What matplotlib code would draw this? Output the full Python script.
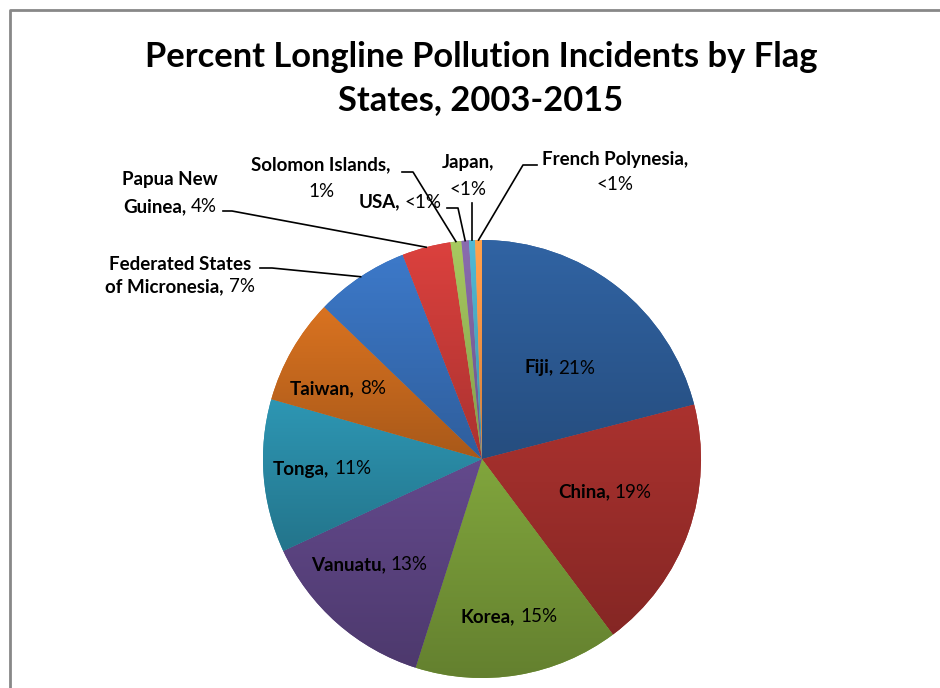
import numpy as np
import matplotlib
matplotlib.use('Agg')
import matplotlib.pyplot as plt
from matplotlib.colors import to_rgb

plt.rcParams['font.family'] = ['Lato', 'DejaVu Sans']

# data (percent of incidents)
states = ['Fiji', 'China', 'Korea', 'Vanuatu', 'Tonga', 'Taiwan',
          'Federated States of Micronesia', 'Papua New Guinea',
          'Solomon Islands', 'USA', 'Japan', 'French Polynesia']
values = [21.0, 18.8, 15.1, 13.2, 11.3, 7.8, 6.9, 3.6, 0.8, 0.55, 0.45, 0.5]
pct_labels = ['21%', '19%', '15%', '13%', '11%', '8%', '7%', '4%', '1%', '<1%', '<1%', '<1%']
colors = ['#2D5C97', '#9E2E2B', '#779938', '#5C4482', '#2A8BA6', '#C96A1E',
          '#3870BA', '#CB3C39', '#9BBB59', '#8064A2', '#4BACC6', '#F79646']

W, H = 940, 688
fig = plt.figure(figsize=(W / 100, H / 100), dpi=100)
ax = fig.add_axes([0, 0, 1, 1])

cx, cy, R = 482, H - 459, 219
wedges, _ = ax.pie(values, colors=colors, startangle=90, counterclock=False,
                   center=(cx, cy), radius=R, wedgeprops=dict(linewidth=0))
ax.set_xlim(0, W)
ax.set_ylim(0, H)
ax.set_aspect('equal')
ax.axis('off')

# Excel-like vertical gradient on each slice
for w, c in zip(wedges, colors):
    t = np.radians(np.linspace(w.theta1, w.theta2, 200))
    xs = np.concatenate([[cx], cx + R * np.cos(t)])
    ys = np.concatenate([[cy], cy + R * np.sin(t)])
    base = np.array(to_rgb(c))
    k = np.linspace(1.08, 0.84, 64)[:, None]
    grad = np.clip(base[None, :] * k, 0, 1)[:, None, :]
    im = ax.imshow(grad, extent=[xs.min(), xs.max(), ys.min(), ys.max()],
                   origin='upper', aspect='auto', zorder=2, interpolation='bilinear')
    im.set_clip_path(w)
ax.set_xlim(0, W)
ax.set_ylim(0, H)

renderer = fig.canvas.get_renderer()


def width_of(s, weight, size):
    t = ax.text(0, 0, s, fontsize=size, weight=weight)
    wd = t.get_window_extent(renderer).width
    t.remove()
    return wd


def rich(x, y, lines, size=13.5, dy=27):
    # lines: list of lists of (text, weight); centred at x
    sp = width_of('x x', 'normal', size) - width_of('xx', 'normal', size)
    n = len(lines)
    for i, parts in enumerate(lines):
        yy = y + (n - 1) * dy / 2 - i * dy
        texts, widths = [], []
        for s, wgt in parts:
            tt = ax.text(0, yy, s.strip(), fontsize=size, weight=wgt, va='center',
                         ha='left', color='black', zorder=5)
            texts.append(tt)
            widths.append(tt.get_window_extent(renderer).width)
        total = sum(widths) + sp * (len(parts) - 1)
        cur = x - total / 2
        for tt, wd in zip(texts, widths):
            tt.set_x(cur)
            cur += wd + sp


# labels inside slices
inside = {0: (560, 368), 1: (605, 492), 2: (509, 617), 3: (369, 565), 4: (322, 469), 5: (338, 389)}
for i, (x, y) in inside.items():
    rich(x, H - y, [[(states[i] + ',', 'bold'), (pct_labels[i], 'normal')]])

# outside labels
rich(180, H - 276, [[('Federated States', 'bold')], [('of Micronesia,', 'bold'), (pct_labels[6], 'normal')]], dy=22)
rich(170, H - 193, [[('Papua New', 'bold')], [('Guinea,', 'bold'), (pct_labels[7], 'normal')]], dy=27)
rich(321, H - 178, [[('Solomon Islands,', 'bold')], [(pct_labels[8], 'normal')]], dy=27)
rich(400, H - 202, [[('USA,', 'bold'), (pct_labels[9], 'normal')]])
rich(468, H - 176, [[('Japan,', 'bold')], [(pct_labels[10], 'normal')]], dy=27)
rich(615, H - 172, [[('French Polynesia,', 'bold')], [(pct_labels[11], 'normal')]], dy=25)


def edge(i):
    w = wedges[i]
    a = np.radians((w.theta1 + w.theta2) / 2)
    return cx + R * np.cos(a), cy + R * np.sin(a)


leaders = {6: [(260, 268), (272, 268)], 7: [(223, 211), (232, 211)],
           8: [(402, 172), (413, 172)], 9: [(447, 208), (458, 208)],
           11: [(537, 165), (523, 165)]}
for i, pts in leaders.items():
    ex, ey = edge(i)
    xs = [p[0] for p in pts] + [ex]
    ys = [H - p[1] for p in pts] + [ey]
    ax.plot(xs, ys, color='black', lw=1.2, zorder=4)
ex, ey = edge(10)
ax.plot([ex, ex], [H - 203, ey], color='black', lw=1.2, zorder=4)

# title
ax.text(481, H - 57, 'Percent Longline Pollution Incidents by Flag', fontsize=24.8,
        weight='bold', ha='center', va='center')
ax.text(481, H - 100, 'States, 2003-2015', fontsize=24.8, weight='bold', ha='center', va='center')

# chart frame (cropped at right and bottom)
ax.plot([9.5, 9.5, W + 5], [-5, H - 9.5, H - 9.5], color='#888888', lw=2, zorder=6,
        clip_on=False)

fig.savefig('out.png', dpi=100)
